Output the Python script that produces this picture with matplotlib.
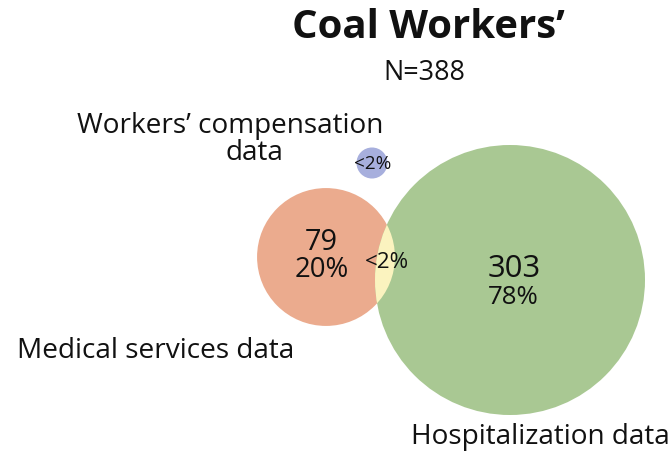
import matplotlib
matplotlib.use("Agg")
import matplotlib.pyplot as plt
from matplotlib.patches import Circle
import numpy as np

# ---- data ----
title = "Coal Workers\u2019"
subtitle = "N=388"
set_names = ["Medical services data", "Hospitalization data", "Workers\u2019 compensation", "data"]
set_counts = [79, 303, 4]          # counts used for circle area (sqrt scaling)
region_counts = ["79", "303", ""]
region_pcts = ["20%", "78%", "<2%"]
overlap_label = "<2%"

# ---- layout (pixels) ----
W, H = 671, 459
fig = plt.figure(figsize=(W / 100, H / 100), dpi=100)
ax = fig.add_axes([0, 0, 1, 1])
ax.set_xlim(0, W)
ax.set_ylim(H, 0)
ax.axis("off")

k = 135 / np.sqrt(303)
radii = [k * np.sqrt(c) for c in set_counts]
centers = [(326, 257), (510, 280), (372, 163)]
colors = ["#EBAB8E", "#A9C893", "#A7AFDD"]
overlap_color = "#FBF3BF"

circles = []
for (cx, cy), r, c in zip(centers, radii, colors):
    p = Circle((cx, cy), r, facecolor=c, edgecolor="none", zorder=1)
    ax.add_patch(p)
    circles.append(p)

# overlap of medical and hospitalization
lens = Circle(centers[0], radii[0], facecolor=overlap_color, edgecolor="none", zorder=2)
ax.add_patch(lens)
lens.set_clip_path(circles[1])

fig.canvas.draw()
renderer = fig.canvas.get_renderer()
FONT = "Open Sans"
TXT = "#111111"

def put(x, y, s, target_w=None, weight="normal", ha="center", size=None):
    t = ax.text(x, y, s, ha=ha, va="center", fontsize=20, family=FONT,
                fontweight=weight, color=TXT, zorder=5)
    if size is not None:
        t.set_fontsize(size)
    else:
        w = t.get_window_extent(renderer).width
        t.set_fontsize(20 * target_w / w)
    return t

put(428, 28, title, 273, weight="bold")
put(424, 73, subtitle, 82)

t1 = put(230, 126, set_names[2], 306)
put(254, 153, set_names[3], size=t1.get_fontsize())
put(156, 351, set_names[0], 277)
put(540, 437, set_names[1], 260)

put(321, 243, region_counts[0], 33)
put(322, 270, region_pcts[0], 54)
put(514, 269, region_counts[1], 53)
put(513, 298, region_pcts[1], 51)
put(387, 262, overlap_label, 44)
put(373, 164, region_pcts[2], 37)

fig.savefig("out.png", dpi=100)
